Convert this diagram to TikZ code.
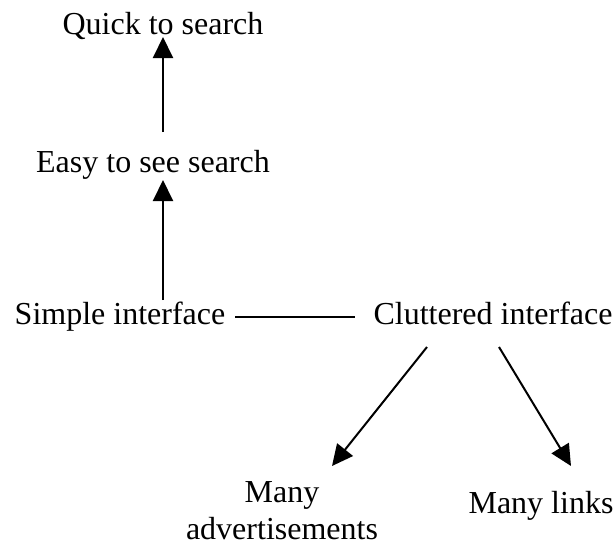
\documentclass[tikz,border=0pt]{standalone}
\usepackage{fontspec}
\setmainfont{Liberation Serif}
\usetikzlibrary{arrows.meta}
\begin{document}
\begin{tikzpicture}[x=1pt,y=-1pt,
  label/.style={inner sep=0pt,anchor=base,font=\fontsize{32}{37}\selectfont},
  link/.style={line width=2pt},
  arr/.style={link,-{Triangle[width=20pt,length=21pt]}}]
\useasboundingbox (0,0) rectangle (616,547);
% concept labels
\node[label] (quick) at (163,34) {Quick to search};
\node[label] (easy) at (153,172) {Easy to see search};
\node[label] (simple) at (120,324) {Simple interface};
\node[label] (clutter) at (493,324) {Cluttered interface};
\node[label,align=center] (ads) at (282,539) {Many\\advertisements};
\node[label] (links) at (541,513) {Many links};
% end points of the connectors
\coordinate (e1) at (163,132);
\coordinate (t1) at (163,37);
\coordinate (s2) at (163,300);
\coordinate (t2) at (163,180);
\coordinate (h1) at (235,317);
\coordinate (h2) at (355,317);
\coordinate (c1) at (427,347);
\coordinate (a1) at (332,466);
\coordinate (c2) at (499,347);
\coordinate (l1) at (571,466);
% connectors
\draw[arr] (e1) -- (t1);
\draw[arr] (s2) -- (t2);
\draw[link] (h1) -- (h2);
\draw[arr] (c1) -- (a1);
\draw[arr] (c2) -- (l1);
\end{tikzpicture}
\end{document}
